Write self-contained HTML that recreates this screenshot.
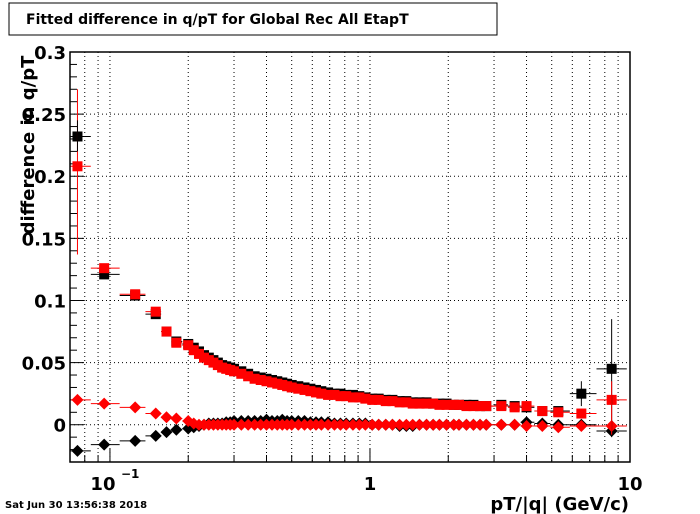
<!DOCTYPE html>
<html><head><meta charset="utf-8"><style>
body{margin:0;background:#fff;}
svg{display:block;font-family:"DejaVu Sans","Liberation Sans",sans-serif;}
</style></head><body>
<svg id="chart" width="700" height="514" viewBox="0 0 700 514">
<rect x="9" y="3" width="488" height="32" fill="#fff" stroke="#000" stroke-width="1"/>
<text x="26" y="24" font-size="14" font-weight="bold">Fitted difference in q/pT for Global Rec All EtapT</text>
<text x="34" y="145" font-size="18" font-weight="bold" transform="rotate(-90 34 145)" text-anchor="middle">difference in q/pT</text>
<text x="629" y="510" font-size="18" font-weight="bold" text-anchor="end">pT/|q| (GeV/c)</text>
<text x="5" y="508" font-size="10" font-weight="bold">Sat Jun 30 13:56:38 2018</text>
<g id="plot"></g>
</svg>
<script>
const xs=[0.075,0.095,0.125,0.15,0.165,0.18,0.2,0.21,0.22,0.23,0.24,0.25,0.26,0.27,0.28,0.29,0.30,0.32,0.34,0.36,0.38,0.40,0.42,0.44,0.46,0.48,0.50,0.53,0.56,0.59,0.62,0.65,0.69,0.73,0.77,0.81,0.86,0.91,0.96,1.02,1.08,1.15,1.22,1.30,1.38,1.46,1.55,1.65,1.75,1.85,1.97,2.1,2.2,2.35,2.5,2.65,2.8,3.2,3.6,4.0,4.6,5.3,6.5,8.5];
const redSq=[0.208,0.126,0.105,0.091,0.075,0.066,0.064,0.060,0.057,0.054,0.052,0.050,0.048,0.046,0.045,0.044,0.043,0.041,0.039,0.037,0.036,0.035,0.034,0.033,0.032,0.031,0.030,0.029,0.028,0.027,0.026,0.025,0.024,0.024,0.023,0.023,0.022,0.022,0.021,0.020,0.020,0.019,0.019,0.018,0.018,0.017,0.017,0.017,0.017,0.016,0.016,0.016,0.016,0.015,0.015,0.015,0.015,0.015,0.014,0.015,0.011,0.010,0.009,0.020];
const blackSq=[0.232,0.121,0.104,0.089,0.075,0.067,0.065,0.062,0.059,0.056,0.054,0.052,0.050,0.048,0.047,0.046,0.045,0.043,0.041,0.039,0.038,0.037,0.036,0.035,0.034,0.033,0.032,0.031,0.030,0.029,0.028,0.027,0.026,0.025,0.025,0.024,0.024,0.023,0.022,0.021,0.021,0.020,0.020,0.019,0.019,0.018,0.018,0.018,0.017,0.017,0.017,0.016,0.016,0.016,0.016,0.015,0.015,0.016,0.015,0.014,0.011,0.011,0.025,0.045];
const blackDia=[-0.021,-0.016,-0.013,-0.009,-0.006,-0.004,-0.003,-0.002,-0.001,0.000,0.001,0.001,0.001,0.001,0.002,0.002,0.003,0.003,0.003,0.003,0.003,0.004,0.003,0.003,0.004,0.003,0.003,0.003,0.003,0.002,0.002,0.002,0.002,0.001,0.001,0.001,0.001,0.001,0.001,0.000,0.000,0.000,0.000,-0.001,-0.001,-0.001,0.000,0.000,0.000,0.000,0.000,0.000,0.000,0.000,0.000,0.000,0.000,0.000,0.000,0.002,0.001,0.000,0.000,-0.005];
const redDia=[0.020,0.017,0.014,0.009,0.006,0.005,0.003,0.001,0.000,0.000,0.000,0.000,0.000,0.000,0.000,0.000,0.000,0.000,0.000,0.000,0.000,0.000,0.000,0.000,0.000,0.000,0.000,0.000,0.000,0.000,0.000,0.000,0.000,0.000,0.000,0.000,0.000,0.000,0.000,0.000,0.000,0.000,0.000,0.000,0.000,0.000,0.000,0.000,0.000,0.000,0.000,0.000,0.000,0.000,0.000,0.000,0.000,0.000,0.000,-0.001,-0.001,-0.002,-0.001,-0.001];
const yTicks=[0,0.05,0.1,0.15,0.2,0.25,0.3];
const yTickLabels=["0","0.05","0.1","0.15","0.2","0.25","0.3"];

const L=70,R=630,T=52,B=462;
const xmin=Math.log10(0.0702),xmax=1;
function X(v){return L+(Math.log10(v)-xmin)/(xmax-xmin)*(R-L);}
const ymin=-0.03,ymax=0.3;
function Y(v){return B-(v-ymin)/(ymax-ymin)*(B-T);}
const NS="http://www.w3.org/2000/svg";
const g=document.getElementById('plot');
function mk(t,a,p){const e=document.createElementNS(NS,t);for(const k in a)e.setAttribute(k,a[k]);(p||g).appendChild(e);return e;}

const gx=[];
for(let d=-2;d<=0;d++)for(let m=1;m<=9;m++){const v=m*Math.pow(10,d);if(v>0.0702&&v<10)gx.push(v);}
gx.forEach(v=>{const l=mk('line',{x1:X(v),x2:X(v),y1:T,y2:B,stroke:'#000','stroke-dasharray':'1,3','stroke-width':1});


const big=(Math.abs(Math.log10(v)-Math.round(Math.log10(v)))<1e-6);
const t=mk('line',{x1:X(v),x2:X(v),y1:B,y2:B-(big?13:7),stroke:'#000'});

});
yTicks.forEach((v,i)=>{if(v<0.3){const l=mk('line',{x1:L,x2:R,y1:Y(v),y2:Y(v),stroke:'#000','stroke-dasharray':'1,3'});

}
const tx=mk('text',{x:L-4,y:Y(v)+7,'font-size':18,'font-weight':'bold','text-anchor':'end'});
tx.textContent=yTickLabels[i];

});
for(let k=-3;k<=30;k++){const v=k/100;const big=(k%5===0);
const t=mk('line',{x1:L,x2:L+(big?14:7),y1:Y(v),y2:Y(v),stroke:'#000'});

}
[[0.1,'10','−1'],[1,'1',''],[10,'10','']].forEach(([v,s,e])=>{
const tx=mk('text',{x:X(v)-(e?7:0),y:B+28,'font-size':18,'font-weight':'bold','text-anchor':'middle'});
tx.textContent=s;


if(e){const ex=mk('text',{x:X(v)+11,y:B+16,'font-size':12,'font-weight':'bold'});ex.textContent=e;

}});

function edges(i){const lo=i>0?Math.sqrt(xs[i]*xs[i-1]):xs[0]*xs[0]/Math.sqrt(xs[0]*xs[1]);
const hi=i<xs.length-1?Math.sqrt(xs[i]*xs[i+1]):Math.min(xs[i]*xs[i]/Math.sqrt(xs[i]*xs[i-1]),10);return [lo,hi];}
function series(vals,color,shape,name){
vals.forEach((v,i)=>{const [lo,hi]=edges(i);const cx=X(xs[i]),cy=Y(v);
mk('line',{x1:Math.max(X(lo),L),x2:Math.min(X(hi),R),y1:cy,y2:cy,stroke:color,'stroke-width':1});
let e;
if(shape==='sq')e=mk('rect',{x:cx-5,y:cy-5,width:10,height:10,fill:color});
else e=mk('polygon',{points:`${cx},${cy-6} ${cx+6},${cy} ${cx},${cy+6} ${cx-6},${cy}`,fill:color});

});}
series(blackDia,'#000','dia','black-diamond-point');
series(blackSq,'#000','sq','black-square-point');
series(redDia,'#f00','dia','red-diamond-point');
series(redSq,'#f00','sq','red-square-point');
mk('line',{x1:X(xs[0]),x2:X(xs[0]),y1:Y(0.27),y2:Y(0.137),stroke:'#f00'});
mk('line',{x1:X(xs[0]),x2:X(xs[0]),y1:Y(0.245),y2:Y(0.22),stroke:'#000'});
const n=xs.length-1;
mk('line',{x1:X(xs[n]),x2:X(xs[n]),y1:Y(0.085),y2:Y(-0.01),stroke:'#000'});
mk('line',{x1:X(xs[n]),x2:X(xs[n]),y1:Y(0.035),y2:Y(-0.008),stroke:'#f00'});
mk('line',{x1:X(xs[n-1]),x2:X(xs[n-1]),y1:Y(0.035),y2:Y(0.015),stroke:'#000'});
const fr=mk('rect',{x:L,y:T,width:R-L,height:B-T,fill:'none',stroke:'#000','stroke-width':1.5});


</script>
</body></html>
